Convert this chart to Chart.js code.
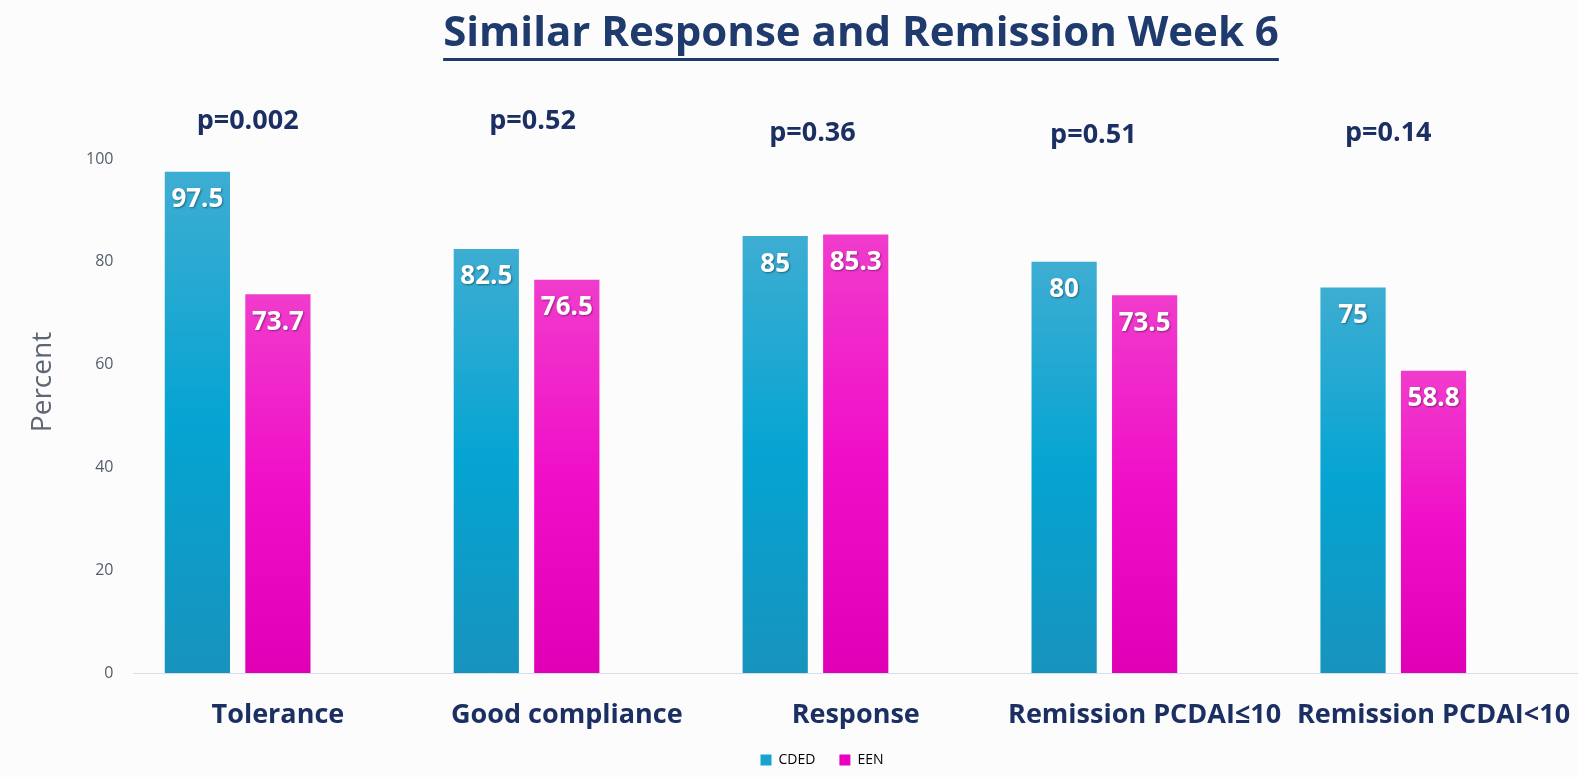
<!DOCTYPE html>
<html>
<head>
<meta charset="utf-8">
<script src="https://cdn.jsdelivr.net/npm/chart.js@4"></script>
<style>
    html, body { margin: 0; padding: 0; background: #fcfcfc; }
</style>
</head>
<body>
<canvas id="chart" width="1578" height="777"></canvas>
<script>
const categories = ['Tolerance', 'Good compliance', 'Response', 'Remission PCDAI≤10', 'Remission PCDAI<10'];
const cdedValues = [97.5, 82.5, 85, 80, 75];
const eenValues = [73.7, 76.5, 85.3, 73.5, 58.8];
const pValues = ['p=0.002', 'p=0.52', 'p=0.36', 'p=0.51', 'p=0.14'];
const seriesNames = ['CDED', 'EEN'];
const yTicks = [0, 20, 40, 60, 80, 100];
const chartTitle = 'Similar Response and Remission Week 6';
const yAxisTitle = 'Percent';

const NAVY = '#1b2f63';
const cdedStops = ['#3eadd2', '#05a4d2', '#1793bd'];
const eenStops = ['#f03ccc', '#f00fc8', '#df00b6'];

// vertical gradient per bar, top lighter
function barGradient(stops) {
    return ctx => {
        const chart = ctx.chart;
        if (!chart.chartArea || ctx.type !== 'data' || ctx.raw == null) return stops[1];
        const y = chart.scales.y;
        const top = y.getPixelForValue(ctx.raw);
        const bottom = y.getPixelForValue(0);
        const g = chart.ctx.createLinearGradient(0, top, 0, bottom);
        g.addColorStop(0, stops[0]);
        g.addColorStop(0.5, stops[1]);
        g.addColorStop(1, stops[2]);
        return g;
    };
}

const titlePlugin = {
    id: 'titleUnderline',
    afterDraw(chart) {
        const ctx = chart.ctx;
        ctx.save();
        ctx.font = 'bold 42px "Open Sans"';
        ctx.fillStyle = '#1f3a6d';
        ctx.textAlign = 'center';
        ctx.textBaseline = 'middle';
        const cx = 861;
        ctx.fillText(chartTitle, cx, 34);
        const w = ctx.measureText(chartTitle).width;
        ctx.fillRect(cx - w / 2, 58, w, 3);

        // axis title drawn by hand, it sits above the middle of the axis
        ctx.font = '28px "Open Sans"';
        ctx.fillStyle = '#5d6673';
        ctx.translate(43, 382);
        ctx.rotate(-Math.PI / 2);
        ctx.fillText(yAxisTitle, 0, 0);
        ctx.restore();
    }
};

// p-value text boxes are not quite centred over each pair in the original
const pLabelY = [121, 121, 133, 135, 133];
const pShiftX = [10, 6, -3, -11, -5];
const pValuePlugin = {
    id: 'pValues',
    afterDraw(chart) {
        const ctx = chart.ctx;
        const m0 = chart.getDatasetMeta(0).data;
        const m1 = chart.getDatasetMeta(1).data;
        ctx.save();
        ctx.font = 'bold 27px "Open Sans"';
        ctx.fillStyle = NAVY;
        ctx.textAlign = 'center';
        ctx.textBaseline = 'middle';
        pValues.forEach((p, i) => {
            const x = (m0[i].x + m1[i].x) / 2 + pShiftX[i];
            ctx.fillText(p, x, pLabelY[i]);
        });
        ctx.restore();
    }
};

const valueLabelPlugin = {
    id: 'valueLabels',
    afterDatasetsDraw(chart) {
        const ctx = chart.ctx;
        ctx.save();
        ctx.font = 'bold 26px "Open Sans"';
        ctx.fillStyle = '#ffffff';
        ctx.textAlign = 'center';
        ctx.textBaseline = 'middle';
        ctx.shadowColor = 'rgba(0,0,0,0.4)';
        ctx.shadowOffsetX = 1;
        ctx.shadowOffsetY = 1;
        ctx.shadowBlur = 2;
        [0, 1].forEach(di => {
            const ds = chart.data.datasets[di];
            chart.getDatasetMeta(di).data.forEach((bar, i) => {
                ctx.fillText(String(ds.data[i]), bar.x, bar.y + 28);
            });
        });
        ctx.restore();
    }
};

new Chart(document.getElementById('chart'), {
    type: 'bar',
    data: {
        labels: categories,
        datasets: [
            { label: seriesNames[0], data: cdedValues, backgroundColor: barGradient(cdedStops) },
            { label: seriesNames[1], data: eenValues, backgroundColor: barGradient(eenStops) },
            // empty slot so the labels sit under the EEN bars like the original
            { label: '', data: categories.map(() => null), backgroundColor: 'rgba(0,0,0,0)' }
        ]
    },
    options: {
        responsive: false,
        animation: false,
        categoryPercentage: 0.836,
        barPercentage: 0.81,
        layout: { padding: { top: 159, left: 66, right: 0, bottom: 0 } },
        plugins: {
            title: { display: false },
            tooltip: { enabled: false },
            legend: {
                position: 'bottom',
                labels: {
                    font: { family: 'Open Sans', size: 14 },
                    color: '#44546a',
                    boxWidth: 11,
                    boxHeight: 11,
                    padding: 24,
                    generateLabels: chart => seriesNames.map((name, i) => ({
                        text: name,
                        fillStyle: i === 0 ? '#15a3cf' : '#ec00c0',
                        strokeStyle: 'rgba(0,0,0,0)',
                        lineWidth: 0,
                        datasetIndex: i
                    }))
                }
            }
        },
        scales: {
            x: {
                // invisible tick marks give the gap under the axis without widening the side padding
                grid: { display: true, drawOnChartArea: false, drawTicks: true, tickLength: 29, tickColor: 'rgba(0,0,0,0)' },
                border: { display: true, color: '#d5dde8', width: 1 },
                ticks: {
                    color: NAVY,
                    font: { family: 'Open Sans', size: 27, weight: 'bold', lineHeight: 1 },
                    padding: 0,
                    maxRotation: 0,
                    autoSkip: false
                },
                // labels are allowed to run to the edges, don't let them squeeze the plot
                afterFit: scale => {
                    scale.paddingLeft = 0;
                    scale.paddingRight = 0;
                }
            },
            y: {
                min: 0,
                max: 100,
                afterBuildTicks: axis => { axis.ticks = yTicks.map(v => ({ value: v })); },
                grid: { display: false, drawTicks: false },
                border: { display: false },
                ticks: {
                    color: '#555e6b',
                    font: { family: 'Open Sans', size: 16 },
                    padding: 20
                }
            }
        }
    },
    plugins: [titlePlugin, pValuePlugin, valueLabelPlugin]
});
</script>
</body>
</html>
